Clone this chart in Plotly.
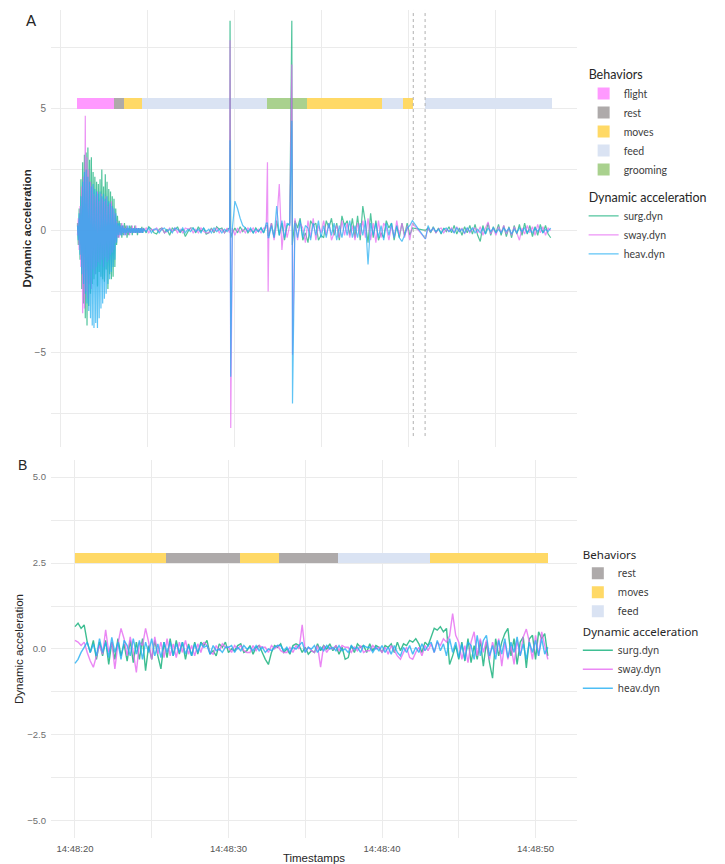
import numpy as np
import plotly.graph_objects as go
from datetime import datetime, timedelta

# ---------------- Panel A data ----------------
# flight burst, sampled every 0.05 s starting at t = 1.0 s
surg_a_flight = [0.3, -0.6, 0.9, -1.2, 2.1, -2.4, 2.8, -3.0, 3.1, -3.6,
                 3.2, -3.9, 3.4, -3.1, 2.9, -2.6, 3.0, -2.2, 2.4, -2.0,
                 2.2, -1.8, 2.0, -2.3, 1.9, -1.7, 2.1, -1.9, 2.5, -2.0,
                 1.8, -2.1, 2.3, -1.6, 2.0, -2.4, 1.7, -1.8, 1.6, -2.0,
                 1.4, -1.9, 1.3, -1.5, 0.9, -0.6, 0.6, -0.3, 0.4, -0.2,
                 0.3, -0.3, 0.2, -0.2, 0.3, -0.1, 0.2, -0.3, 0.1, -0.2,
                 0.2, -0.1, 0.2, -0.2, 0.1, -0.1, 0.2, -0.1, 0.1, -0.2,
                 0.1, -0.1, 0.1, -0.1, 0.15, -0.1]
sway_a_flight = [-0.2, 0.5, -0.8, 1.0, -1.5, 1.8, -3.4, 2.2, -3.2, 4.7,
                 -2.5, 3.0, -2.8, 2.5, -2.2, 2.0, -2.4, 1.8, -1.6, 1.5,
                 -1.8, 1.4, -1.5, 1.6, -1.3, 1.2, -1.4, 1.5, -1.2, 1.3,
                 -1.5, 1.2, -1.1, 1.4, -1.3, 1.0, -1.2, 1.1, -1.0, 1.2,
                 -0.9, 0.9, -0.8, 0.7, -0.5, 0.4, -0.3, 0.2, -0.3, 0.2,
                 -0.2, 0.3, -0.1, 0.2, -0.2, 0.1, -0.2, 0.2, -0.1, 0.1,
                 -0.2, 0.1, -0.1, 0.2, -0.1, 0.1, -0.1, 0.2, -0.1, 0.1,
                 -0.1, 0.1, -0.1, 0.1, -0.1, 0.1]
heav_a_flight = [0.2, -0.4, 0.7, -1.0, 1.4, -1.8, 2.0, -2.2, 2.4, -2.6,
                 2.5, -3.0, 2.2, -3.3, 2.0, -3.6, 1.8, -3.9, 1.9, -4.0,
                 1.7, -3.8, 1.6, -4.0, 1.5, -3.6, 1.6, -3.2, 1.4, -3.0,
                 1.5, -2.8, 1.3, -2.6, 1.4, -2.2, 1.2, -2.0, 1.1, -1.7,
                 1.0, -1.5, 0.9, -1.2, 0.7, -0.5, 0.3, -0.2, 0.3, -0.2,
                 0.2, -0.2, 0.2, -0.1, 0.1, -0.2, 0.1, -0.1, 0.2, -0.1,
                 0.1, -0.1, 0.1, -0.1, 0.1, -0.1, 0.1, -0.1, 0.1, -0.1,
                 0.1, -0.1, 0.1, -0.1, 0.1, -0.1]

# after flight, sampled every 0.15 s starting at t = 4.8 s (until recording gap)
surg_a_mid = [0.1, -0.1, 0.15, 0.05, -0.1, -0.15, 0.05, 0.1, -0.1, 0.05,
              -0.2, 0.1, 0.0, 0.15, -0.1, 0.05, -0.25, -0.05, 0.1, 0.1,
              -0.1, 0.15, -0.05, 0.1, -0.15, -0.1, 0.1, -0.1, 0.15, 0.05,
              0.1, -0.1, 0.05, 0.1, -0.1, 0.1, -0.1, 0.15, -0.05, 0.1,
              -0.1, 0.05, -0.1, 0.1, -0.05, 0.1, -0.1, 0.2, -0.2, 0.3,
              -0.3, 0.4, -0.2, 0.3, -0.4, 0.2, 0.3, -0.6, 0.4, 0.1,
              0.5, -0.4, -0.1, -0.5, 0.4, 0.2, 0.3, -0.4, -0.2, -0.3,
              0.4, 0.1, 0.5, -0.2, 0.3, -0.4, 0.6, 0.2, 0.4, -0.2,
              0.5, -0.3, 0.6, -0.4, 1.0, 0.3, -0.5, 0.7, -0.3, 0.4,
              -0.4, -0.1, -0.3, 0.4, 0.1, 0.3, -0.4, 0.2, -0.3, 0.3,
              -0.2, 0.3, -0.2, 0.1]
sway_a_mid = [-0.05, 0.1, -0.1, 0.05, 0.0, 0.1, -0.05, 0.1, -0.1, -0.05,
              0.1, -0.05, 0.1, -0.1, 0.05, -0.1, 0.1, 0.05, 0.1, -0.1,
              0.05, -0.1, 0.1, -0.05, -0.1, -0.1, 0.05, -0.05, 0.1, -0.1,
              0.05, -0.1, 0.1, -0.1, 0.1, -0.2, 0.1, -0.1, 0.05, -0.1,
              0.1, -0.05, 0.1, -0.1, 0.05, -0.1, 0.1, 0.1, -0.1, 0.3,
              -0.4, 0.3, 1.9, -0.8, 0.4, -0.3, 0.2, -0.3, 0.5, -0.4,
              0.3, 0.1, -0.5, 0.4, -0.3, 0.5, -0.4, 0.2, -0.1, 0.4,
              -0.2, 0.3, -0.4, -0.1, 0.2, -0.3, 0.4, -0.2, 0.3, -0.3,
              0.2, -0.4, 0.3, -0.2, 0.4, -0.3, 0.5, -0.4, 0.3, -0.5,
              0.4, -0.3, 0.3, 0.1, -0.4, 0.2, -0.3, 0.4, -0.2, 0.3,
              -0.3, 0.2, -0.4, 0.3]
heav_a_mid = [0.05, -0.05, 0.1, -0.1, 0.05, 0.05, -0.1, 0.05, 0.1, -0.05,
              0.05, -0.1, 0.1, 0.05, -0.05, 0.1, -0.1, 0.05, -0.05, 0.1,
              -0.05, 0.05, -0.1, 0.1, -0.05, 0.05, -0.1, 0.1, -0.05, 0.05,
              -0.1, 0.05, -0.05, 0.1, 0.05, 1.2, 0.9, 0.5, 0.2, 0.1,
              -0.05, 0.1, -0.1, 0.05, -0.05, 0.1, -0.1, 0.3, -0.3, 0.2,
              -0.3, 1.0, -0.2, 0.4, -0.3, 0.3, 0.2, -0.3, 0.3, -0.3,
              0.4, -0.3, 0.2, 0.1, -0.4, 0.3, -0.2, 0.4, -0.3, 0.2,
              -0.3, 0.3, -0.2, 0.3, -0.4, 0.2, -0.3, 0.3, -0.2, 0.4,
              -0.3, 0.2, -0.3, 0.3, -0.2, 0.4, -1.4, 0.3, -0.2, 0.3,
              -0.3, 0.2, -0.4, 0.3, -0.2, 0.3, -0.3, 0.2, -0.3, -0.45,
              -0.2, 0.1, 0.2, 0.4]

# sharp single-sample spikes (time in s, values)
spike_a_times = [9.77, 9.81, 11.92, 11.96, 13.32, 13.36]
surg_a_spikes = [8.6, -0.3, 0.2, -0.2, 8.6, -0.5]
sway_a_spikes = [7.8, -8.1, 2.8, -2.5, 6.8, -5.1]
heav_a_spikes = [3.7, -6.0, 0.3, -0.3, 4.5, -7.1]

# after the recording gap, sampled every 0.15 s starting at t = 21.0 s
surg_a_late = [0.0, 0.1, -0.1, 0.15, -0.1, 0.1, -0.15, 0.1, -0.05, 0.15,
               -0.1, 0.2, -0.15, 0.1, -0.2, 0.15, -0.1, 0.2, -0.15, 0.25,
               -0.2, -0.45, 0.2, -0.15, 0.3, -0.2, 0.15, -0.1, 0.25, -0.2,
               0.2, -0.25, 0.15, -0.3, 0.2, -0.15, 0.25, -0.2, 0.3, -0.15,
               0.2, -0.25, 0.15, -0.2, 0.25, -0.1, 0.2, -0.15, -0.3]
sway_a_late = [-0.35, 0.1, -0.05, 0.1, -0.1, 0.05, 0.1, -0.1, 0.05, -0.05,
               0.1, -0.1, 0.15, -0.05, 0.1, -0.15, 0.1, -0.1, 0.05, 0.1,
               -0.1, 0.15, -0.2, 0.1, 0.35, -0.15, 0.1, -0.2, 0.15, -0.1,
               0.2, -0.15, 0.1, -0.2, 0.15, -0.1, -0.4, 0.1, -0.15, 0.2,
               -0.1, 0.15, -0.2, 0.25, -0.1, 0.15, -0.2, 0.1, 0.0]
heav_a_late = [-0.35, 0.2, -0.05, 0.1, -0.05, 0.05, -0.1, 0.05, 0.1, -0.05,
               0.05, -0.1, 0.1, -0.05, 0.05, -0.1, 0.1, -0.05, 0.1, -0.1,
               0.05, -0.1, 0.1, -0.15, 0.1, -0.05, 0.1, -0.1, 0.05, -0.1,
               0.1, -0.05, 0.1, -0.15, 0.05, -0.1, 0.1, -0.05, 0.1, -0.1,
               0.05, -0.1, 0.1, -0.05, 0.1, -0.1, 0.05, -0.05, 0.1]

beh_a_labels = ["flight", "rest", "moves", "feed", "grooming", "moves", "feed", "moves", "feed"]
beh_a_start = [0.98, 3.10, 3.68, 4.71, 11.90, 14.20, 18.51, 19.71, 20.98]
beh_a_end = [3.10, 3.68, 4.71, 11.90, 14.20, 18.51, 19.71, 20.30, 28.28]
gap_a_marks = [20.30, 20.98]

# ---------------- Panel B data ----------------
# sampled every 0.2 s starting at 14:48:20
surg_b = [0.65, 0.75, 0.6, 0.7, 0.2, -0.1, 0.25, -0.3, 0.2, -0.2,
          0.25, -0.45, 0.2, -0.3, 0.3, -0.2, 0.15, -0.35, 0.25, -0.4,
          0.2, -0.3, 0.3, -0.63, 0.1, -0.3, 0.25, -0.2, -0.58, 0.2,
          -0.25, 0.3, -0.2, 0.25, -0.15, 0.2, -0.3, 0.15, -0.2, 0.2,
          -0.15, 0.2, 0.1, 0.25, -0.15, -0.05, -0.2, 0.15, 0.05, 0.2,
          -0.1, 0.0, -0.05, 0.1, 0.15, -0.1, -0.05, 0.1, -0.15, 0.05,
          0.1, -0.1, -0.3, -0.45, -0.1, 0.1, 0.05, 0.15, -0.1, 0.0,
          -0.15, 0.1, 0.15, 0.1, -0.1, 0.05, -0.15, -0.05, -0.1, 0.15,
          -0.05, 0.1, 0.0, 0.15, -0.05, 0.1, -0.15, 0.05, -0.3, -0.25,
          0.1, -0.1, 0.15, 0.05, 0.1, -0.1, 0.15, -0.05, 0.1, 0.05,
          -0.1, 0.1, 0.05, 0.15, -0.1, 0.2, -0.05, 0.15, 0.1, 0.25,
          0.2, 0.3, 0.15, -0.1, 0.2, 0.1, 0.35, 0.6, 0.55, 0.65,
          0.5, 0.6, -0.45, -0.2, 0.1, -0.3, 0.2, -0.35, 0.3, -0.4,
          0.1, -0.3, 0.25, -0.5, 0.2, -0.4, -0.85, 0.3, -0.2, 0.2,
          0.45, 0.6, -0.2, 0.3, -0.45, 0.2, 0.35, -0.55, 0.3, 0.4,
          -0.3, 0.5, 0.3, 0.45, -0.2]
sway_b = [0.25, 0.2, 0.1, 0.2, -0.1, -0.35, -0.53, -0.2, 0.1, -0.15,
          0.56, -0.1, 0.2, -0.58, 0.15, 0.6, 0.3, -0.2, 0.35, -0.1,
          -0.68, 0.2, 0.1, 0.6, 0.2, -0.3, 0.35, -0.15, 0.2, -0.25,
          0.3, -0.2, 0.15, -0.25, 0.2, -0.1, 0.25, -0.15, 0.1, -0.2,
          0.15, -0.1, 0.2, 0.1, -0.1, -0.15, 0.1, -0.05, 0.15, 0.05,
          0.05, -0.1, 0.1, 0.0, 0.1, -0.05, -0.1, -0.1, 0.1, -0.05,
          0.1, 0.05, 0.05, -0.1, 0.1, 0.0, 0.1, -0.05, -0.1, -0.1,
          0.05, -0.1, 0.1, 0.0, 0.7, -0.1, 0.05, -0.05, -0.1, 0.1,
          -0.53, 0.1, -0.1, 0.05, 0.0, 0.1, -0.05, 0.1, 0.05, 0.05,
          -0.1, 0.05, -0.05, 0.1, -0.1, -0.05, -0.05, 0.1, 0.0, 0.05,
          -0.1, 0.05, -0.15, 0.1, -0.05, -0.2, -0.3, -0.1, 0.05, -0.25,
          -0.3, -0.1, 0.05, -0.2, 0.1, -0.05, 0.15, -0.1, 0.2, 0.1,
          0.3, 0.2, 0.38, 1.03, 0.4, 0.2, -0.3, 0.1, -0.4, 0.2,
          0.5, -0.2, 0.3, -0.1, 0.25, -0.3, 0.2, -0.15, 0.3, -0.5,
          0.2, -0.3, 0.1, -0.45, 0.25, -0.2, 0.35, 0.58, 0.2, -0.3,
          0.4, -0.2, 0.5, 0.1, -0.3]
heav_b = [-0.42, -0.3, -0.1, 0.05, 0.2, -0.1, 0.15, -0.2, 0.3, -0.1,
          0.2, -0.25, 0.34, -0.1, 0.2, -0.3, 0.25, 0.1, -0.2, 0.3,
          -0.15, 0.25, -0.3, 0.2, -0.1, 0.3, -0.2, 0.15, -0.25, 0.2,
          -0.1, 0.2, -0.2, 0.15, -0.1, 0.2, -0.15, 0.1, -0.2, 0.15,
          -0.1, 0.15, 0.05, 0.1, -0.15, 0.1, -0.05, 0.0, -0.1, 0.05,
          0.05, 0.1, -0.1, 0.05, -0.05, 0.1, 0.0, 0.05, -0.05, 0.1,
          -0.05, 0.05, -0.1, 0.0, -0.05, 0.05, 0.1, 0.1, -0.05, 0.05,
          -0.1, 0.05, 0.0, 0.1, 0.2, -0.1, 0.05, 0.0, 0.1, -0.1,
          0.05, -0.05, 0.1, 0.0, 0.05, -0.05, 0.1, -0.05, 0.0, -0.1,
          0.1, 0.0, 0.05, -0.1, 0.1, 0.05, 0.05, -0.1, 0.05, -0.05,
          0.1, -0.1, 0.05, -0.15, 0.1, -0.1, -0.2, 0.05, -0.1, 0.1,
          -0.15, 0.05, -0.1, 0.15, -0.05, 0.1, 0.2, -0.1, 0.25, -0.05,
          0.15, -0.2, 0.3, -0.1, 0.2, -0.25, 0.15, -0.3, 0.2, 0.1,
          -0.3, 0.4, -0.2, 0.25, 0.4, -0.2, 0.1, -0.3, 0.25, -0.15,
          0.3, -0.25, 0.2, -0.1, 0.35, -0.2, 0.15, -0.3, 0.2, -0.1,
          0.25, -0.2, 0.3, -0.15, 0.05]

beh_b_labels = ["moves", "rest", "moves", "rest", "feed", "moves"]
beh_b_start = [0.0, 5.93, 10.75, 13.29, 17.13, 23.13]   # seconds after 14:48:20
beh_b_end = [5.93, 10.75, 13.29, 17.13, 23.13, 30.81]

# ---------------- styles ----------------
COL = {"surg.dyn": "#0FAF78", "sway.dyn": "#E66AF2", "heav.dyn": "#22AEF2"}
BEH_COL = {"flight": "#FF99FF", "rest": "#AEAAAA", "moves": "#FFD966",
           "feed": "#DAE3F3", "grooming": "#A9D18E"}
GRID = "#EBEBEB"
T0 = datetime(2024, 1, 1, 14, 48, 20)

def seg_times(start, step, n):
    return start + step * np.arange(n)

fig = go.Figure()

# ---- Panel A behaviours ----
A_LEVEL, A_THICK = 5.19, 0.45
for name in ["flight", "rest", "moves", "feed", "grooming"]:
    idx = [k for k, l in enumerate(beh_a_labels) if l == name]
    fig.add_trace(go.Bar(
        orientation="h", y=[A_LEVEL] * len(idx),
        base=[beh_a_start[k] for k in idx],
        x=[beh_a_end[k] - beh_a_start[k] for k in idx],
        width=[A_THICK] * len(idx), marker=dict(color=BEH_COL[name], line=dict(width=0)),
        name=name, legend="legend", legendgroup="behA",
        legendgrouptitle_text="Behaviors", xaxis="x", yaxis="y", hoverinfo="skip"))

# ---- Panel A lines ----
for name, fl, mid, sp, late in [("surg.dyn", surg_a_flight, surg_a_mid, surg_a_spikes, surg_a_late),
                                ("sway.dyn", sway_a_flight, sway_a_mid, sway_a_spikes, sway_a_late),
                                ("heav.dyn", heav_a_flight, heav_a_mid, heav_a_spikes, heav_a_late)]:
    t = np.concatenate([seg_times(1.0, 0.05, len(fl)), seg_times(4.8, 0.15, len(mid)),
                        np.array(spike_a_times), seg_times(21.0, 0.15, len(late))])
    y = np.array(list(fl) + list(mid) + list(sp) + list(late))
    order = np.argsort(t, kind="stable")
    fig.add_trace(go.Scatter(
        x=t[order], y=y[order], mode="lines", name=name,
        line=dict(color=COL[name], width=1.2, simplify=False), opacity=0.72,
        legend="legend", legendgroup="dynA", legendgrouptitle_text="Dynamic acceleration",
        xaxis="x", yaxis="y", hoverinfo="skip"))

for tm in gap_a_marks:
    fig.add_shape(type="line", xref="x", yref="y domain", x0=tm, x1=tm, y0=0.025, y1=1,
                  line=dict(color="#B0B0B0", width=1, dash="dot"))

# ---- Panel B behaviours ----
B_LEVEL, B_THICK = 2.65, 0.31
for name in ["rest", "moves", "feed"]:
    idx = [k for k, l in enumerate(beh_b_labels) if l == name]
    fig.add_trace(go.Bar(
        orientation="h", y=[B_LEVEL] * len(idx),
        base=[(T0 + timedelta(seconds=beh_b_start[k])).isoformat(sep=" ") for k in idx],
        x=[(beh_b_end[k] - beh_b_start[k]) * 1000 for k in idx],
        width=[B_THICK] * len(idx), marker=dict(color=BEH_COL[name], line=dict(width=0)),
        name=name, legend="legend2", legendgroup="behB",
        legendgrouptitle_text="Behaviors", xaxis="x2", yaxis="y2", hoverinfo="skip"))

# ---- Panel B lines ----
for name, vals in [("surg.dyn", surg_b), ("sway.dyn", sway_b), ("heav.dyn", heav_b)]:
    tt = [T0 + timedelta(seconds=0.2 * k) for k in range(len(vals))]
    fig.add_trace(go.Scatter(
        x=tt, y=vals, mode="lines", name=name,
        line=dict(color=COL[name], width=1.4, simplify=False), opacity=0.8,
        legend="legend2", legendgroup="dynB", legendgrouptitle_text="Dynamic acceleration",
        xaxis="x2", yaxis="y2", hoverinfo="skip"))

XD = [51 / 725, 577 / 725]
tickfont = dict(family="Liberation Sans", size=10, color="#6E6E6E")

fig.update_layout(
    width=725, height=864, autosize=False,
    margin=dict(l=0, r=0, t=0, b=0),
    paper_bgcolor="white", plot_bgcolor="white",
    barmode="overlay", bargap=0,
    xaxis=dict(domain=XD, range=[-0.52, 29.71], showticklabels=False, ticks="",
               showgrid=True, gridcolor=GRID, gridwidth=1, tick0=5, dtick=10,
               minor=dict(dtick=5, showgrid=True, gridcolor=GRID, gridwidth=1),
               zeroline=False, showline=False, anchor="y"),
    yaxis=dict(domain=[1 - 448 / 864, 1 - 10 / 864], range=[-8.88, 9.04],
               tick0=0, dtick=5, showgrid=True, gridcolor=GRID, gridwidth=1,
               minor=dict(dtick=2.5, showgrid=True, gridcolor=GRID, gridwidth=1),
               zeroline=False, showline=False, ticks="", ticklabelstandoff=4,
               tickfont=tickfont, anchor="x",
               title=dict(text="Dynamic acceleration", standoff=0,
                          font=dict(family="Liberation Sans", size=11.5, color="#262626", weight="bold"))),
    xaxis2=dict(domain=XD, type="date",
                range=[T0 - timedelta(seconds=1.56), T0 + timedelta(seconds=32.7)],
                tick0=T0, dtick=10000, tickformat="%H:%M:%S",
                showgrid=True, gridcolor=GRID, gridwidth=1,
                minor=dict(dtick=5000, showgrid=True, gridcolor=GRID, gridwidth=1),
                zeroline=False, showline=False, ticks="", ticklabelstandoff=3,
                tickfont=dict(family="Liberation Sans", size=9.5, color="#555555"), anchor="y2",
                title=dict(text="Timestamps", standoff=2,
                           font=dict(family="Liberation Sans", size=11.5, color="#262626"))),
    yaxis2=dict(domain=[1 - 840 / 864, 1 - 461 / 864], range=[-5.5, 5.5],
                tick0=0, dtick=2.5, tickformat=".1f", showgrid=True, gridcolor=GRID, gridwidth=1,
                minor=dict(dtick=1.25, showgrid=True, gridcolor=GRID, gridwidth=1),
                zeroline=False, showline=False, ticks="", ticklabelstandoff=4,
                tickfont=dict(family="Liberation Sans", size=9.5, color="#6E6E6E"), anchor="x2",
                title=dict(text="Dynamic acceleration", standoff=1,
                           font=dict(family="Liberation Sans", size=11.5, color="#262626"))),
    legend=dict(x=0.805, xanchor="left", y=1 - 60 / 864, yanchor="top",
                bgcolor="rgba(0,0,0,0)", tracegroupgap=8,
                font=dict(family="Lato", size=10.5, color="#404040"),
                grouptitlefont=dict(family="Lato", size=12.5, color="#262626")),
    legend2=dict(x=0.797, xanchor="left", y=1 - 541 / 864, yanchor="top",
                 bgcolor="rgba(0,0,0,0)", tracegroupgap=1,
                 font=dict(family="Noto Sans", size=10, color="#404040"),
                 grouptitlefont=dict(family="Noto Sans", size=11.5, color="#262626")),
    showlegend=True,
    annotations=[
        dict(text="A", x=32 / 725, y=1 - 20 / 864, xref="paper", yref="paper",
             showarrow=False, xanchor="center", yanchor="middle",
             font=dict(family="Lato", size=15, color="#262626")),
        dict(text="B", x=22 / 725, y=1 - 466 / 864, xref="paper", yref="paper",
             showarrow=False, xanchor="center", yanchor="middle",
             font=dict(family="Liberation Sans", size=14, color="#262626")),
    ],
)

fig.write_html("out.html")
